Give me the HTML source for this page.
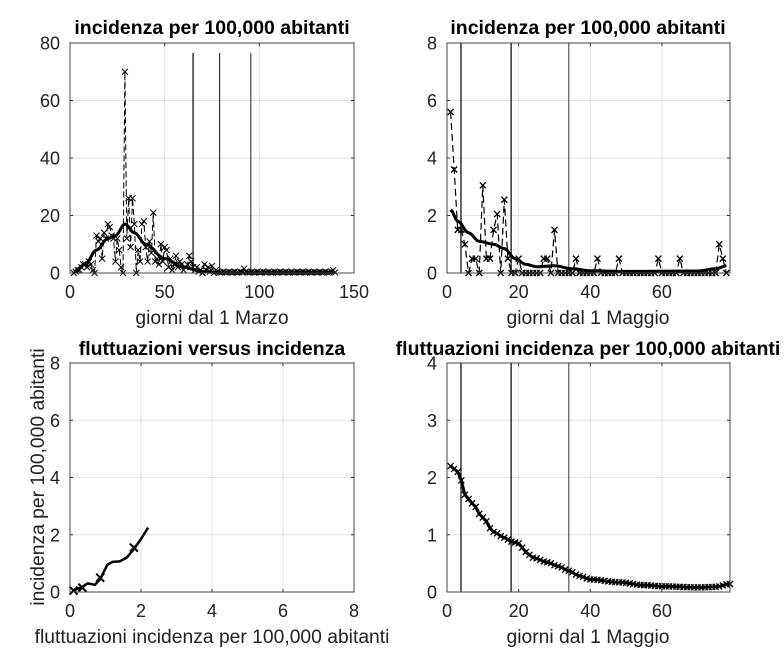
<!DOCTYPE html>
<html><head><meta charset="utf-8"><style>
html,body{margin:0;padding:0;background:#fff;}
svg{display:block;font-family:"Liberation Sans",Arial,sans-serif;}
</style></head><body>
<svg id="s" width="784" height="658" xmlns="http://www.w3.org/2000/svg"></svg>
<script>
const S=document.getElementById('s');let h='';
function ax(o){
 const X=v=>o.x0+(v-o.xmin)/(o.xmax-o.xmin)*(o.x1-o.x0);
 const Y=v=>o.y1-(v-o.ymin)/(o.ymax-o.ymin)*(o.y1-o.y0);
 o.X=X;o.Y=Y;
 o.xt.forEach(t=>{const x=X(t);if(t!=o.xmin)h+=`<line x1="${x}" y1="${o.y0}" x2="${x}" y2="${o.y1}" stroke="#e3e3e3" stroke-width="1"/>`;
  h+=`<line x1="${x}" y1="${o.y1}" x2="${x}" y2="${o.y1-3}" stroke="#333"/><line x1="${x}" y1="${o.y0}" x2="${x}" y2="${o.y0+3}" stroke="#333"/>`;
  h+=`<text x="${x}" y="${o.y1+25}" font-size="18" text-anchor="middle" fill="#222">${t}</text>`;});
 o.yt.forEach(t=>{const y=Y(t);if(t!=o.ymin)h+=`<line x1="${o.x0}" y1="${y}" x2="${o.x1}" y2="${y}" stroke="#e3e3e3" stroke-width="1"/>`;
  h+=`<line x1="${o.x0}" y1="${y}" x2="${o.x0+3}" y2="${y}" stroke="#333"/><line x1="${o.x1}" y1="${y}" x2="${o.x1-3}" y2="${y}" stroke="#333"/>`;
  h+=`<text x="${o.x0-10}" y="${y+6.5}" font-size="18" text-anchor="end" fill="#222">${t}</text>`;});
 return o;}
function box(o){h+=`<rect x="${o.x0}" y="${o.y0}" width="${o.x1-o.x0}" height="${o.y1-o.y0}" fill="none" stroke="#444" stroke-width="1"/>`;}
function interp(pts,x){for(let i=0;i<pts.length-1;i++){if(x>=pts[i][0]&&x<=pts[i+1][0]){const t=(x-pts[i][0])/(pts[i+1][0]-pts[i][0]);const s=t*t*(3-2*t);return pts[i][1]+(pts[i+1][1]-pts[i][1])*s;}}return pts[pts.length-1][1];}
function line(o,pts,attr){h+=`<polyline fill="none" points="${pts.map(p=>o.X(p[0]).toFixed(1)+','+o.Y(p[1]).toFixed(1)).join(' ')}" ${attr}/>`;}
function marks(o,pts,sz,w){pts.forEach(p=>{const x=o.X(p[0]),y=o.Y(p[1]);h+=`<path d="M${x-sz},${y-sz}L${x+sz},${y+sz}M${x-sz},${y+sz}L${x+sz},${y-sz}" stroke="#000" stroke-width="${w}"/>`;});}
function vl(o,x,y0,c){h+=`<line x1="${o.X(x)}" y1="${y0}" x2="${o.X(x)}" y2="${o.y1}" stroke="${c}" stroke-width="1.2"/>`;}
function title(t,x,y){h+=`<text x="${x}" y="${y}" font-size="19.5" font-weight="bold" text-anchor="middle">${t}</text>`;}
function xl(t,x,y){h+=`<text x="${x}" y="${y}" font-size="19.3" text-anchor="middle" fill="#222">${t}</text>`;}

let A=ax({x0:70,x1:354,y0:43,y1:273,xmin:0,xmax:150,ymin:0,ymax:80,xt:[0,50,100,150],yt:[0,20,40,60,80]});
let dA={2:0,3:0.5,4:1,5:1,6:2,7:3,8:3,9:2,10:4,11:3,12:1,13:0,14:13,15:11,16:12,17:5,18:14,19:12,20:17,21:16,22:13,23:12,24:4,25:12,26:8,27:2,28:0,29:70,30:12,31:26,32:9,33:26,34:17,35:0,36:8,37:4,38:17,39:18,40:9,41:4,42:11,43:7,44:21,45:4,46:5,47:3,48:10,49:4,50:9,51:8,52:2,53:5,54:1,55:3,56:6,57:2,58:4,59:3,60:1,61:2,62:3,63:6,64:4,65:2,66:1,67:2,68:0.5,69:1,70:0,71:3,72:1,73:2,74:0.5,75:2.5,76:0,77:1,78:0.5};
let pA=[];for(let d=2;d<=140;d++){let v=dA[d]!==undefined?dA[d]:(d==139?1:(d==92?1.5:(d%3==0?0.5:0.2)));pA.push([d,v]);}
let sA=[[2,0.5],[8,3],[14,8],[20,12],[24,13],[29,17],[34,14],[40,10],[50,5],[60,2],[70,0.5],[80,0],[130,0.1],[140,0.2]];
let sAp=[];for(let d=2;d<=140;d+=0.5)sAp.push([d,interp(sA,d)]);
vl(A,65,53,'#000');vl(A,79,53,'#333');vl(A,95.5,53,'#444');
line(A,pA,'stroke="#000" stroke-width="1" stroke-dasharray="6,3"');
marks(A,pA,3,1);
line(A,sAp,'stroke="#000" stroke-width="3"');
box(A);title('incidenza per 100,000 abitanti',212,34);xl('giorni dal 1 Marzo',212,324);

let B=ax({x0:447,x1:730,y0:43,y1:273,xmin:0,xmax:79,ymin:0,ymax:8,xt:[0,20,40,60],yt:[0,2,4,6,8]});
let dB={1:5.6,2:3.6,3:1.5,4:1.5,5:1.0,6:0,7:0.5,8:0.5,9:0,10:3.05,11:0.5,12:0.5,13:1.5,14:2.05,15:0,16:2.55,17:0.5,18:0,19:0,20:0.5,27:0.5,28:0.5,30:1.5,36:0.5,42:0.5,48:0.5,59:0.5,65:0.5,76:1.0,77:0.5};
let pB=[];for(let d=1;d<=78;d++)pB.push([d,dB[d]||0]);
let sB=[[1,2.2],[3,1.8],[6,1.4],[9,1.1],[13,1.0],[16,0.85],[19,0.5],[22,0.3],[25,0.22],[30,0.25],[35,0.15],[40,0.08],[50,0.05],[70,0.07],[75,0.15],[78,0.25]];
let sBp=[];for(let d=1;d<=78;d+=0.5)sBp.push([d,interp(sB,d)]);
vl(B,3.9,43,'#000');vl(B,17.9,43,'#000');vl(B,34,43,'#555');
line(B,pB,'stroke="#000" stroke-width="1.2" stroke-dasharray="7,4"');
marks(B,pB,3,1.3);
line(B,sBp,'stroke="#000" stroke-width="3"');
box(B);title('incidenza per 100,000 abitanti',588,34);xl('giorni dal 1 Maggio',588,324);

let C=ax({x0:70,x1:354,y0:363,y1:592,xmin:0,xmax:8,ymin:0,ymax:8,xt:[0,2,4,6,8],yt:[0,2,4,6,8]});
let sC=[[0.1,0.05],[0.3,0.15],[0.5,0.3],[0.7,0.25],[0.85,0.45],[0.95,0.7],[1.05,0.95],[1.2,1.05],[1.4,1.07],[1.6,1.2],[1.8,1.5],[2.0,1.85],[2.2,2.25]];
line(C,sC,'stroke="#000" stroke-width="2.5" stroke-linejoin="round"');
marks(C,[[0.1,0.05],[0.35,0.15],[0.85,0.5],[1.8,1.55]],4,2);
box(C);title('fluttuazioni versus incidenza',212,355);xl('fluttuazioni incidenza per 100,000 abitanti',212,643);
h+=`<text transform="translate(44,477) rotate(-90)" font-size="19.3" text-anchor="middle" fill="#222">incidenza per 100,000 abitanti</text>`;

let D=ax({x0:447,x1:730,y0:363,y1:592,xmin:0,xmax:79,ymin:0,ymax:4,xt:[0,20,40,60],yt:[0,1,2,3,4]});
let sD=[[1,2.2],[3,2.1],[4,1.95],[5,1.7],[7,1.55],[10,1.3],[13,1.05],[16,0.95],[18,0.88],[20,0.85],[22,0.7],[24,0.6],[28,0.52],[31,0.45],[34,0.37],[37,0.28],[40,0.22],[48,0.17],[55,0.12],[60,0.1],[70,0.08],[75,0.09],[79,0.14]];
let pD=[];for(let d=1;d<=79;d++)pD.push([d,interp(sD,d)]);
vl(D,3.9,363,'#000');vl(D,17.9,363,'#000');vl(D,34,363,'#555');
line(D,pD,'stroke="#000" stroke-width="3"');
marks(D,pD,3,1.3);
box(D);title('fluttuazioni incidenza per 100,000 abitanti',588,355);xl('giorni dal 1 Maggio',588,643);
S.innerHTML=h;
</script>
</body></html>
